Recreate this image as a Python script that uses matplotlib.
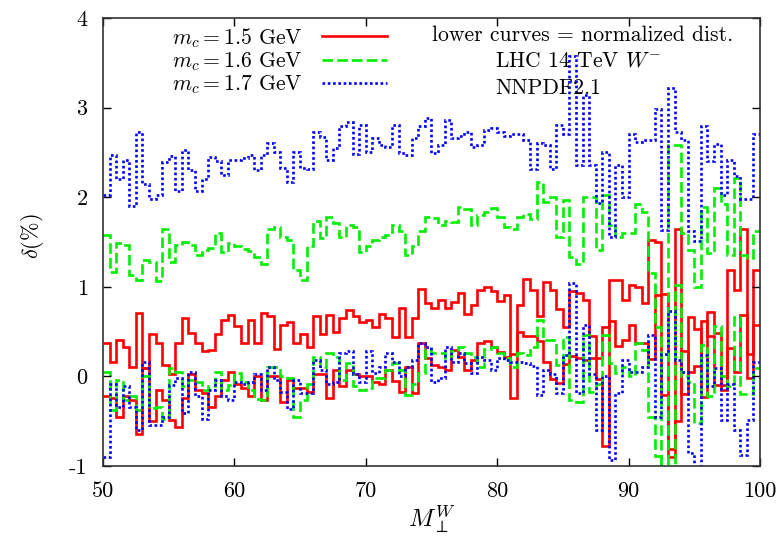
import numpy as np
import matplotlib
matplotlib.use("Agg")
import matplotlib.pyplot as plt
from matplotlib.lines import Line2D

plt.rcParams["font.family"] = ["cmr10", "DejaVu Serif"]
plt.rcParams["mathtext.fontset"] = "cm"
plt.rcParams["axes.unicode_minus"] = False
plt.rcParams["axes.formatter.use_mathtext"] = False

# bin edges of the M_perp^W histogram (0.5 wide bins, 50..100)
bin_edges = np.arange(50, 100.01, 0.5)

# m_c = 1.5 GeV, full and normalized distributions
red_tot = [0.37, 0.16, 0.41, 0.33, 0.11, 0.71, 0.09, 0.47, 0.37, 0.13,
           0.03, 0.37, 0.65, 0.48, 0.37, 0.28, 0.29, 0.47, 0.63, 0.69,
           0.56, 0.37, 0.63, 0.37, 0.71, 0.67, 0.31, 0.57, 0.61, 0.37,
           0.47, 0.33, 0.67, 0.47, 0.69, 0.50, 0.65, 0.74, 0.67, 0.61,
           0.63, 0.55, 0.70, 0.65, 0.44, 0.76, 0.44, 0.65, 0.98, 0.82,
           0.76, 0.85, 0.76, 0.83, 0.93, 0.70, 0.80, 0.96, 1.00, 0.95,
           0.84, 0.91, -0.24, 0.80, 1.09, 0.97, 0.67, 1.05, 0.97, 0.75,
           0.55, 0.95, 0.93, 0.85, 0.45, 0.20, 0.55, 1.08, 1.08, 0.85,
           1.02, 1.00, 0.82, 1.52, 1.50, -0.21, -0.81, 1.65, -0.20, 0.66,
           0.53, -0.23, 0.72, 0.48, -0.15, 1.19, 0.97, 1.64, 0.25, 1.19]
red_low = [-0.22, -0.24, -0.45, -0.22, -0.26, -0.64, 0.09, -0.50, -0.15, -0.26,
           -0.49, -0.56, -0.24, 0.03, -0.15, -0.19, -0.34, -0.22, -0.04, 0.05,
           -0.08, -0.13, -0.22, 0.01, -0.26, 0.00, 0.01, -0.28, -0.04, -0.13,
           -0.13, -0.17, 0.03, 0.03, -0.24, 0.07, -0.11, 0.07, 0.03, 0.00,
           0.00, -0.06, -0.08, 0.07, -0.05, -0.17, 0.10, -0.19, 0.37, 0.20,
           0.13, 0.10, 0.07, 0.29, 0.22, 0.07, 0.18, 0.37, 0.39, 0.33,
           0.27, 0.22, 0.25, 0.50, 0.45, 0.45, 0.40, 0.16, -0.03, -0.07,
           0.14, 0.23, 0.20, 0.18, 0.20, -0.03, -0.78, 0.62, 0.34, 0.41,
           0.57, 0.37, 0.37, 0.19, 0.91, 0.92, -0.90, -0.50, 0.28, 0.05,
           0.12, 0.62, 0.45, -0.10, -0.10, 0.32, 0.05, 0.68, -0.02, 0.57]

# m_c = 1.6 GeV
green_tot = [1.58, 1.17, 1.49, 1.47, 1.13, 1.08, 1.30, 1.28, 1.06, 1.64,
             1.28, 1.47, 1.50, 1.47, 1.36, 1.41, 1.43, 1.60, 1.39, 1.49,
             1.45, 1.42, 1.40, 1.33, 1.26, 1.65, 1.67, 1.56, 1.52, 1.19,
             1.08, 1.45, 1.73, 1.54, 1.78, 1.71, 1.56, 1.69, 1.67, 1.39,
             1.45, 1.52, 1.56, 1.58, 1.69, 1.62, 1.36, 1.45, 1.62, 1.78,
             1.77, 1.69, 1.74, 1.72, 1.89, 1.87, 1.69, 1.80, 1.84, 1.88,
             1.78, 1.67, 1.65, 1.78, 1.81, 1.76, 2.17, 1.95, 2.00, 1.56,
             1.97, 1.33, 1.26, 2.00, 2.00, 1.41, 2.02, 1.69, 1.56, 1.60,
             1.60, 1.92, 1.84, 1.15, 0.55, -1.30, 2.58, 2.58, 1.60, 1.41,
             1.00, 1.89, 1.38, 2.10, 1.92, 1.36, 2.21, 1.36, 1.32, 1.62]
green_low = [0.05, -0.37, -0.04, -0.26, -0.22, -0.37, 0.00, -0.35, -0.34, -0.47,
             0.09, 0.05, -0.11, -0.04, -0.06, -0.15, -0.11, 0.05, -0.15, -0.10,
             0.04, -0.06, -0.15, -0.25, -0.26, 0.10, 0.11, 0.00, -0.02, -0.45,
             -0.26, -0.09, 0.22, 0.11, 0.26, 0.22, -0.04, 0.15, -0.11, -0.15,
             -0.13, -0.02, -0.02, 0.07, 0.15, 0.07, -0.21, -0.09, 0.04, 0.31,
             0.26, 0.26, 0.20, 0.28, 0.33, 0.26, 0.22, 0.11, 0.31, 0.33,
             0.26, 0.20, 0.11, 0.26, 0.24, 0.33, 0.63, 0.41, 0.41, 0.13,
             0.44, -0.26, -0.28, 0.46, -0.17, -0.08, 0.46, 0.15, 0.04, 0.10,
             0.00, 0.37, 0.30, -0.45, -0.89, -1.30, -1.30, 1.02, 0.00, -0.06,
             -0.52, 0.35, -0.22, 0.56, 0.00, -0.11, 0.66, -0.20, -0.20, 0.09]

# m_c = 1.7 GeV
blue_tot = [2.02, 2.47, 2.20, 2.42, 1.90, 2.73, 2.15, 1.98, 2.03, 2.39,
            2.46, 2.07, 2.53, 2.30, 2.07, 2.20, 2.45, 2.40, 2.25, 2.42,
            2.42, 2.44, 2.47, 2.30, 2.47, 2.60, 2.50, 2.33, 2.17, 2.50,
            2.33, 2.31, 2.73, 2.67, 2.42, 2.55, 2.79, 2.84, 2.48, 2.81,
            2.51, 2.66, 2.58, 2.56, 2.81, 2.49, 2.47, 2.66, 2.79, 2.88,
            2.49, 2.58, 2.86, 2.66, 2.68, 2.73, 2.56, 2.58, 2.75, 2.77,
            2.73, 2.68, 2.70, 2.71, 2.64, 2.32, 2.61, 2.58, 2.32, 2.81,
            2.71, 3.58, 2.36, 3.14, 2.36, 1.93, 2.51, 1.56, 2.36, 2.00,
            2.71, 2.62, 2.64, 2.64, 2.99, 1.63, 3.22, 2.73, 2.64, 1.62,
            1.51, 2.79, 2.40, 2.59, 2.02, 2.41, 2.24, 1.98, 1.98, 2.71]
blue_low = [-0.90, -0.08, -0.34, -0.11, -0.34, -0.60, 0.16, -0.54, -0.54, -0.45,
            -0.10, -0.02, -0.41, 0.05, -0.22, -0.47, -0.15, -0.04, -0.22, -0.26,
            -0.06, -0.08, -0.06, 0.03, -0.15, 0.11, -0.04, -0.17, -0.36, -0.04,
            -0.19, -0.19, 0.18, 0.07, -0.09, -0.06, 0.26, 0.28, 0.03, -0.06,
            0.28, 0.04, 0.11, 0.26, 0.16, 0.00, 0.11, 0.18, 0.37, 0.33,
            -0.06, -0.02, 0.33, 0.16, 0.26, 0.15, 0.04, 0.22, 0.18, 0.07,
            0.20, 0.18, 0.16, 0.16, 0.15, 0.12, -0.21, 0.07, 0.03, -0.19,
            0.24, 1.04, -0.19, 0.57, 0.03, -0.60, 0.00, -0.93, -0.19, 0.18,
            0.05, 0.05, 0.11, 0.46, -0.45, 0.25, 0.73, 0.18, 0.05, -0.86,
            -1.02, 0.24, -0.11, 0.09, -0.49, -0.08, -0.60, -0.88, -0.49, 0.16]

labels = [r"$m_c = 1.5$ GeV", r"$m_c = 1.6$ GeV", r"$m_c = 1.7$ GeV"]
colors = ["#ff0000", "#00ee00", "#0000ff"]
styles = ["-", (0, (4, 1.6)), (0, (1, 1))]

fig = plt.figure(figsize=(7.83, 5.41), dpi=100)
ax = fig.add_axes([0.1315, 0.1386, 0.8391, 0.8281])

series = [(red_tot, red_low), (green_tot, green_low), (blue_tot, blue_low)]
handles = []
for (tot, low), c, ls, lab in zip(series, colors, styles, labels):
    for vals in (tot, low):
        ax.stairs(vals, bin_edges, baseline=None, color=c, linestyle=ls, linewidth=1.9)
    handles.append(Line2D([], [], color=c, linestyle=ls, linewidth=1.9, label=lab))

ax.set_xlim(50, 100)
ax.set_ylim(-1, 4)
ax.set_xticks([50, 60, 70, 80, 90, 100])
ax.set_yticks([-1, 0, 1, 2, 3, 4])
ax.tick_params(direction="in", top=True, right=True, length=6, width=1,
               labelsize=16, pad=11)
for s in ax.spines.values():
    s.set_linewidth(1.2)
    s.set_color("#333333")

leg = ax.legend(handles=handles, loc="upper right", bbox_to_anchor=(0.432, 0.982),
                frameon=False, markerfirst=False, fontsize=15.6, handlelength=3.0,
                handletextpad=0.9, labelspacing=0.02, borderpad=0, borderaxespad=0)

ax.text(0.5008, 0.962, "lower curves = normalized dist.", transform=ax.transAxes,
        fontsize=15.6, va="center", ha="left")
ax.text(0.5966, 0.904, r"LHC 14 TeV $W^{-}$", transform=ax.transAxes,
        fontsize=15.6, va="center", ha="left")
ax.text(0.5966, 0.844, "NNPDF2.1", transform=ax.transAxes,
        fontsize=15.6, va="center", ha="left")

fig.text(33 / 783, 1 - 236 / 541, r"$\delta$(%)", rotation=90, fontsize=16,
         ha="center", va="center")
fig.text(432 / 783, 1 - 520 / 541, r"$M_{\perp}^{W}$", fontsize=18,
         ha="center", va="center")

fig.savefig("out.png", dpi=100)
